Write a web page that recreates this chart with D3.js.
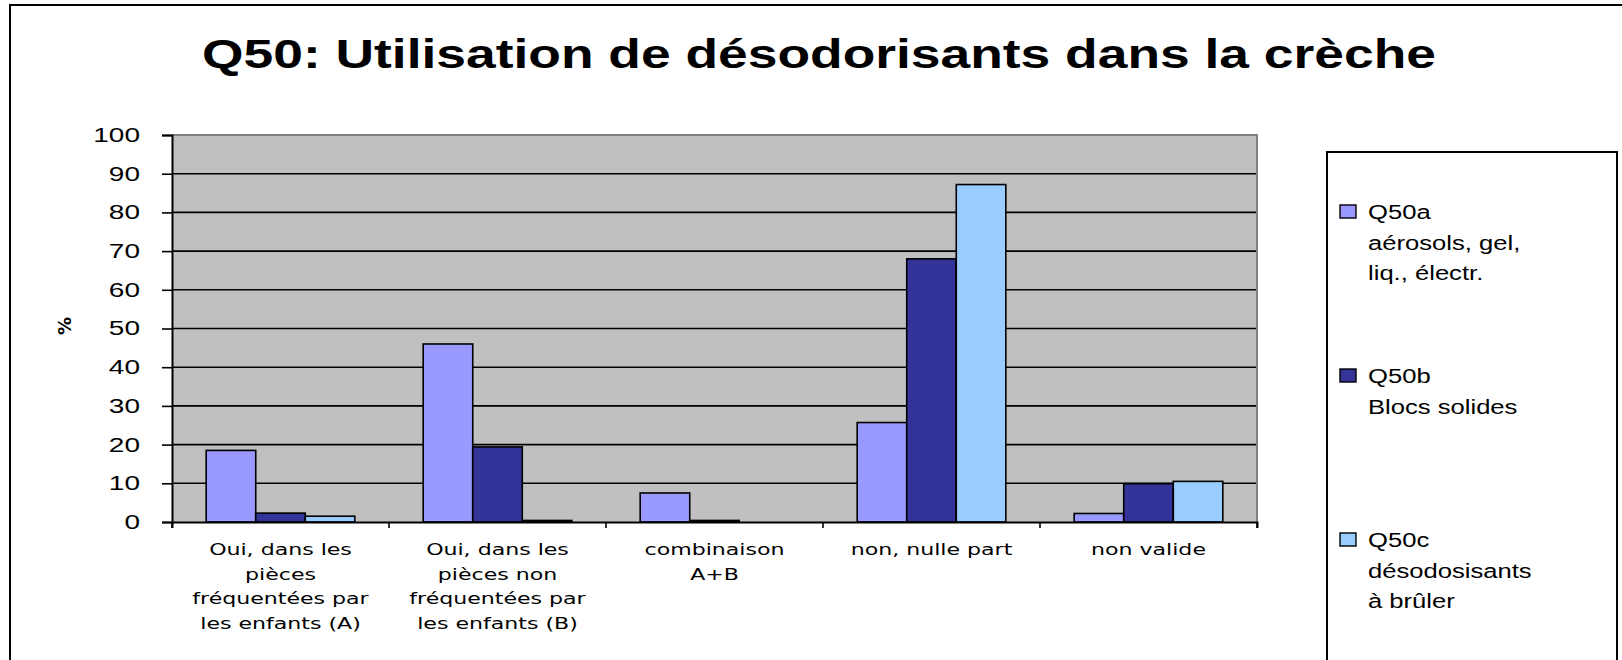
<!DOCTYPE html>
<html>
<head>
<meta charset="utf-8">
<script src="https://cdn.jsdelivr.net/npm/d3@7"></script>
<style>
  body { margin: 0; background: #fff; }
  svg { display: block; }
</style>
</head>
<body>
<svg id="chart"></svg>
<script>
// data
const categories = ["A", "B", "AB", "non", "invalide"]
const categoryLabels = [
  ["Oui, dans les", "pièces", "fréquentées par", "les enfants (A)"],
  ["Oui, dans les", "pièces non", "fréquentées par", "les enfants (B)"],
  ["combinaison", "A+B"],
  ["non, nulle part"],
  ["non valide"]
]
const seriesKeys = ["Q50a", "Q50b", "Q50c"]
const seriesLabels = [
  ["Q50a", "aérosols, gel,", "liq., électr."],
  ["Q50b", "Blocs solides"],
  ["Q50c", "désodosisants", "à brûler"]
]
const q50a = [18.5, 46, 7.5, 25.7, 2.2]
const q50b = [2.3, 19.4, 0.4, 68, 9.9]
const q50c = [1.5, 0.4, 0, 87.2, 10.5]
const colors = ["#9999FF", "#333399", "#99CCFF"]
const yTicks = [0, 10, 20, 30, 40, 50, 60, 70, 80, 90, 100]

const w = 1622
const h = 660
const plotLeft = 172, plotRight = 1257, plotTop = 135, plotBottom = 522

const svg = d3.select("#chart")
  .attr("width", w)
  .attr("height", h)

// outer chart border
svg.append("rect")
  .attr("x", 10).attr("y", 5)
  .attr("width", 1640).attr("height", 700)
  .attr("fill", "#fff")
  .attr("stroke", "#000")
  .attr("stroke-width", 2)

// title
svg.append("text")
  .attr("x", 202)
  .attr("y", 68)
  .attr("textLength", 1234)
  .attr("lengthAdjust", "spacingAndGlyphs")
  .style("font-family", "'Liberation Sans', Arial, sans-serif")
  .style("font-size", "40px")
  .style("font-weight", "bold")
  .text("Q50: Utilisation de désodorisants dans la crèche")

const x0 = d3.scaleBand()
  .domain(categories)
  .range([plotLeft, plotRight])
  .padding(0)

const x1 = d3.scaleBand()
  .domain(seriesKeys)
  .range([0, x0.bandwidth()])
  .paddingInner(0)
  .paddingOuter(0.69)

const y = d3.scaleLinear()
  .domain([0, 100])
  .range([plotBottom, plotTop])

// plot background
svg.append("rect")
  .attr("x", plotLeft).attr("y", plotTop)
  .attr("width", plotRight - plotLeft).attr("height", plotBottom - plotTop)
  .attr("fill", "#C0C0C0")

// gridlines
svg.append("g")
  .selectAll("line")
  .data(yTicks.filter(d => d > 0 && d < 100))
  .enter()
  .append("line")
  .attr("x1", plotLeft).attr("x2", plotRight)
  .attr("y1", d => y(d)).attr("y2", d => y(d))
  .attr("stroke", "#000")
  .attr("stroke-width", 1.6)

// top and right frame
svg.append("path")
  .attr("d", `M${plotLeft},${plotTop}H${plotRight}V${plotBottom}`)
  .attr("fill", "none")
  .attr("stroke", "#808080")
  .attr("stroke-width", 2)

// bars
const rows = categories.map((c, i) => ({ cat: c, vals: [q50a[i], q50b[i], q50c[i]] }))

svg.append("g")
  .selectAll("g")
  .data(rows)
  .enter()
  .append("g")
  .attr("transform", d => `translate(${x0(d.cat)},0)`)
  .selectAll("rect")
  .data(d => d.vals.map((v, k) => ({ key: seriesKeys[k], v: v, k: k })))
  .enter()
  .append("rect")
  .attr("x", d => x1(d.key))
  .attr("width", x1.bandwidth())
  .attr("y", d => y(d.v))
  .attr("height", d => y(0) - y(d.v))
  .attr("fill", d => colors[d.k])
  .attr("stroke", "#000")
  .attr("stroke-width", d => d.v > 0 ? 1.6 : 0)

// y axis
const yAxis = d3.axisLeft(y)
  .tickValues(yTicks)
  .tickSize(10)
  .tickPadding(22)
  .tickFormat(d3.format("d"))

const gy = svg.append("g")
  .attr("transform", `translate(${plotLeft},0)`)
  .call(yAxis)
gy.select(".domain").attr("stroke", "#000").attr("stroke-width", 2)
gy.selectAll(".tick line").attr("stroke", "#000").attr("stroke-width", 1.6)
gy.selectAll(".tick text")
  .attr("x", 0)
  .attr("transform", "translate(-32,0) scale(1.4,1)")
  .attr("fill", "#000")
  .style("font-family", "'Liberation Sans', Arial, sans-serif")
  .style("font-size", "20px")

// x axis: ticks at band edges
const xAxis = d3.axisBottom(x0)
  .tickSize(6)
  .tickFormat("")
const gx = svg.append("g")
  .attr("transform", `translate(0,${plotBottom})`)
  .call(xAxis)
gx.select(".domain").attr("stroke", "#000").attr("stroke-width", 2)
gx.selectAll(".tick")
  .attr("transform", d => `translate(${x0(d)},0)`)
gx.selectAll(".tick line").attr("stroke", "#000").attr("stroke-width", 1.6)
gx.append("line")
  .attr("x1", plotRight).attr("x2", plotRight)
  .attr("y1", 0).attr("y2", 6)
  .attr("stroke", "#000").attr("stroke-width", 1.6)

// category labels
const labels = svg.append("g")
  .selectAll("g")
  .data(categories)
  .enter()
  .append("g")
  .attr("transform", d => `translate(${x0(d) + x0.bandwidth() / 2},0)`)

labels.selectAll("text")
  .data((d, i) => categoryLabels[i])
  .enter()
  .append("text")
  .attr("text-anchor", "middle")
  .attr("transform", (d, j) => `translate(0,${555 + j * 24.7}) scale(1.38,1)`)
  .style("font-family", "'DejaVu Sans', sans-serif")
  .style("font-size", "16px")
  .text(d => d)

// y title
svg.append("text")
  .attr("transform", "translate(71,326) rotate(-90)")
  .attr("text-anchor", "middle")
  .style("font-family", "'DejaVu Sans', sans-serif")
  .style("font-size", "18px")
  .style("font-weight", "bold")
  .text("%")

// legend
svg.append("rect")
  .attr("x", 1327).attr("y", 152)
  .attr("width", 290).attr("height", 600)
  .attr("fill", "#fff")
  .attr("stroke", "#000")
  .attr("stroke-width", 2)

const legend = svg.append("g")
  .selectAll("g")
  .data(seriesKeys)
  .enter()
  .append("g")
  .attr("transform", (d, i) => `translate(1340,${212 + i * 164})`)

legend.append("rect")
  .attr("x", 0).attr("y", -7)
  .attr("width", 16).attr("height", 13)
  .attr("fill", (d, i) => colors[i])
  .attr("stroke", "#000")
  .attr("stroke-width", 1.4)

legend.selectAll("text")
  .data((d, i) => seriesLabels[i])
  .enter()
  .append("text")
  .attr("transform", (d, j) => `translate(28,${j * 30.5 + 7}) scale(1.22,1)`)
  .style("font-family", "'Liberation Sans', Arial, sans-serif")
  .style("font-size", "21px")
  .text(d => d)
</script>
</body>
</html>
